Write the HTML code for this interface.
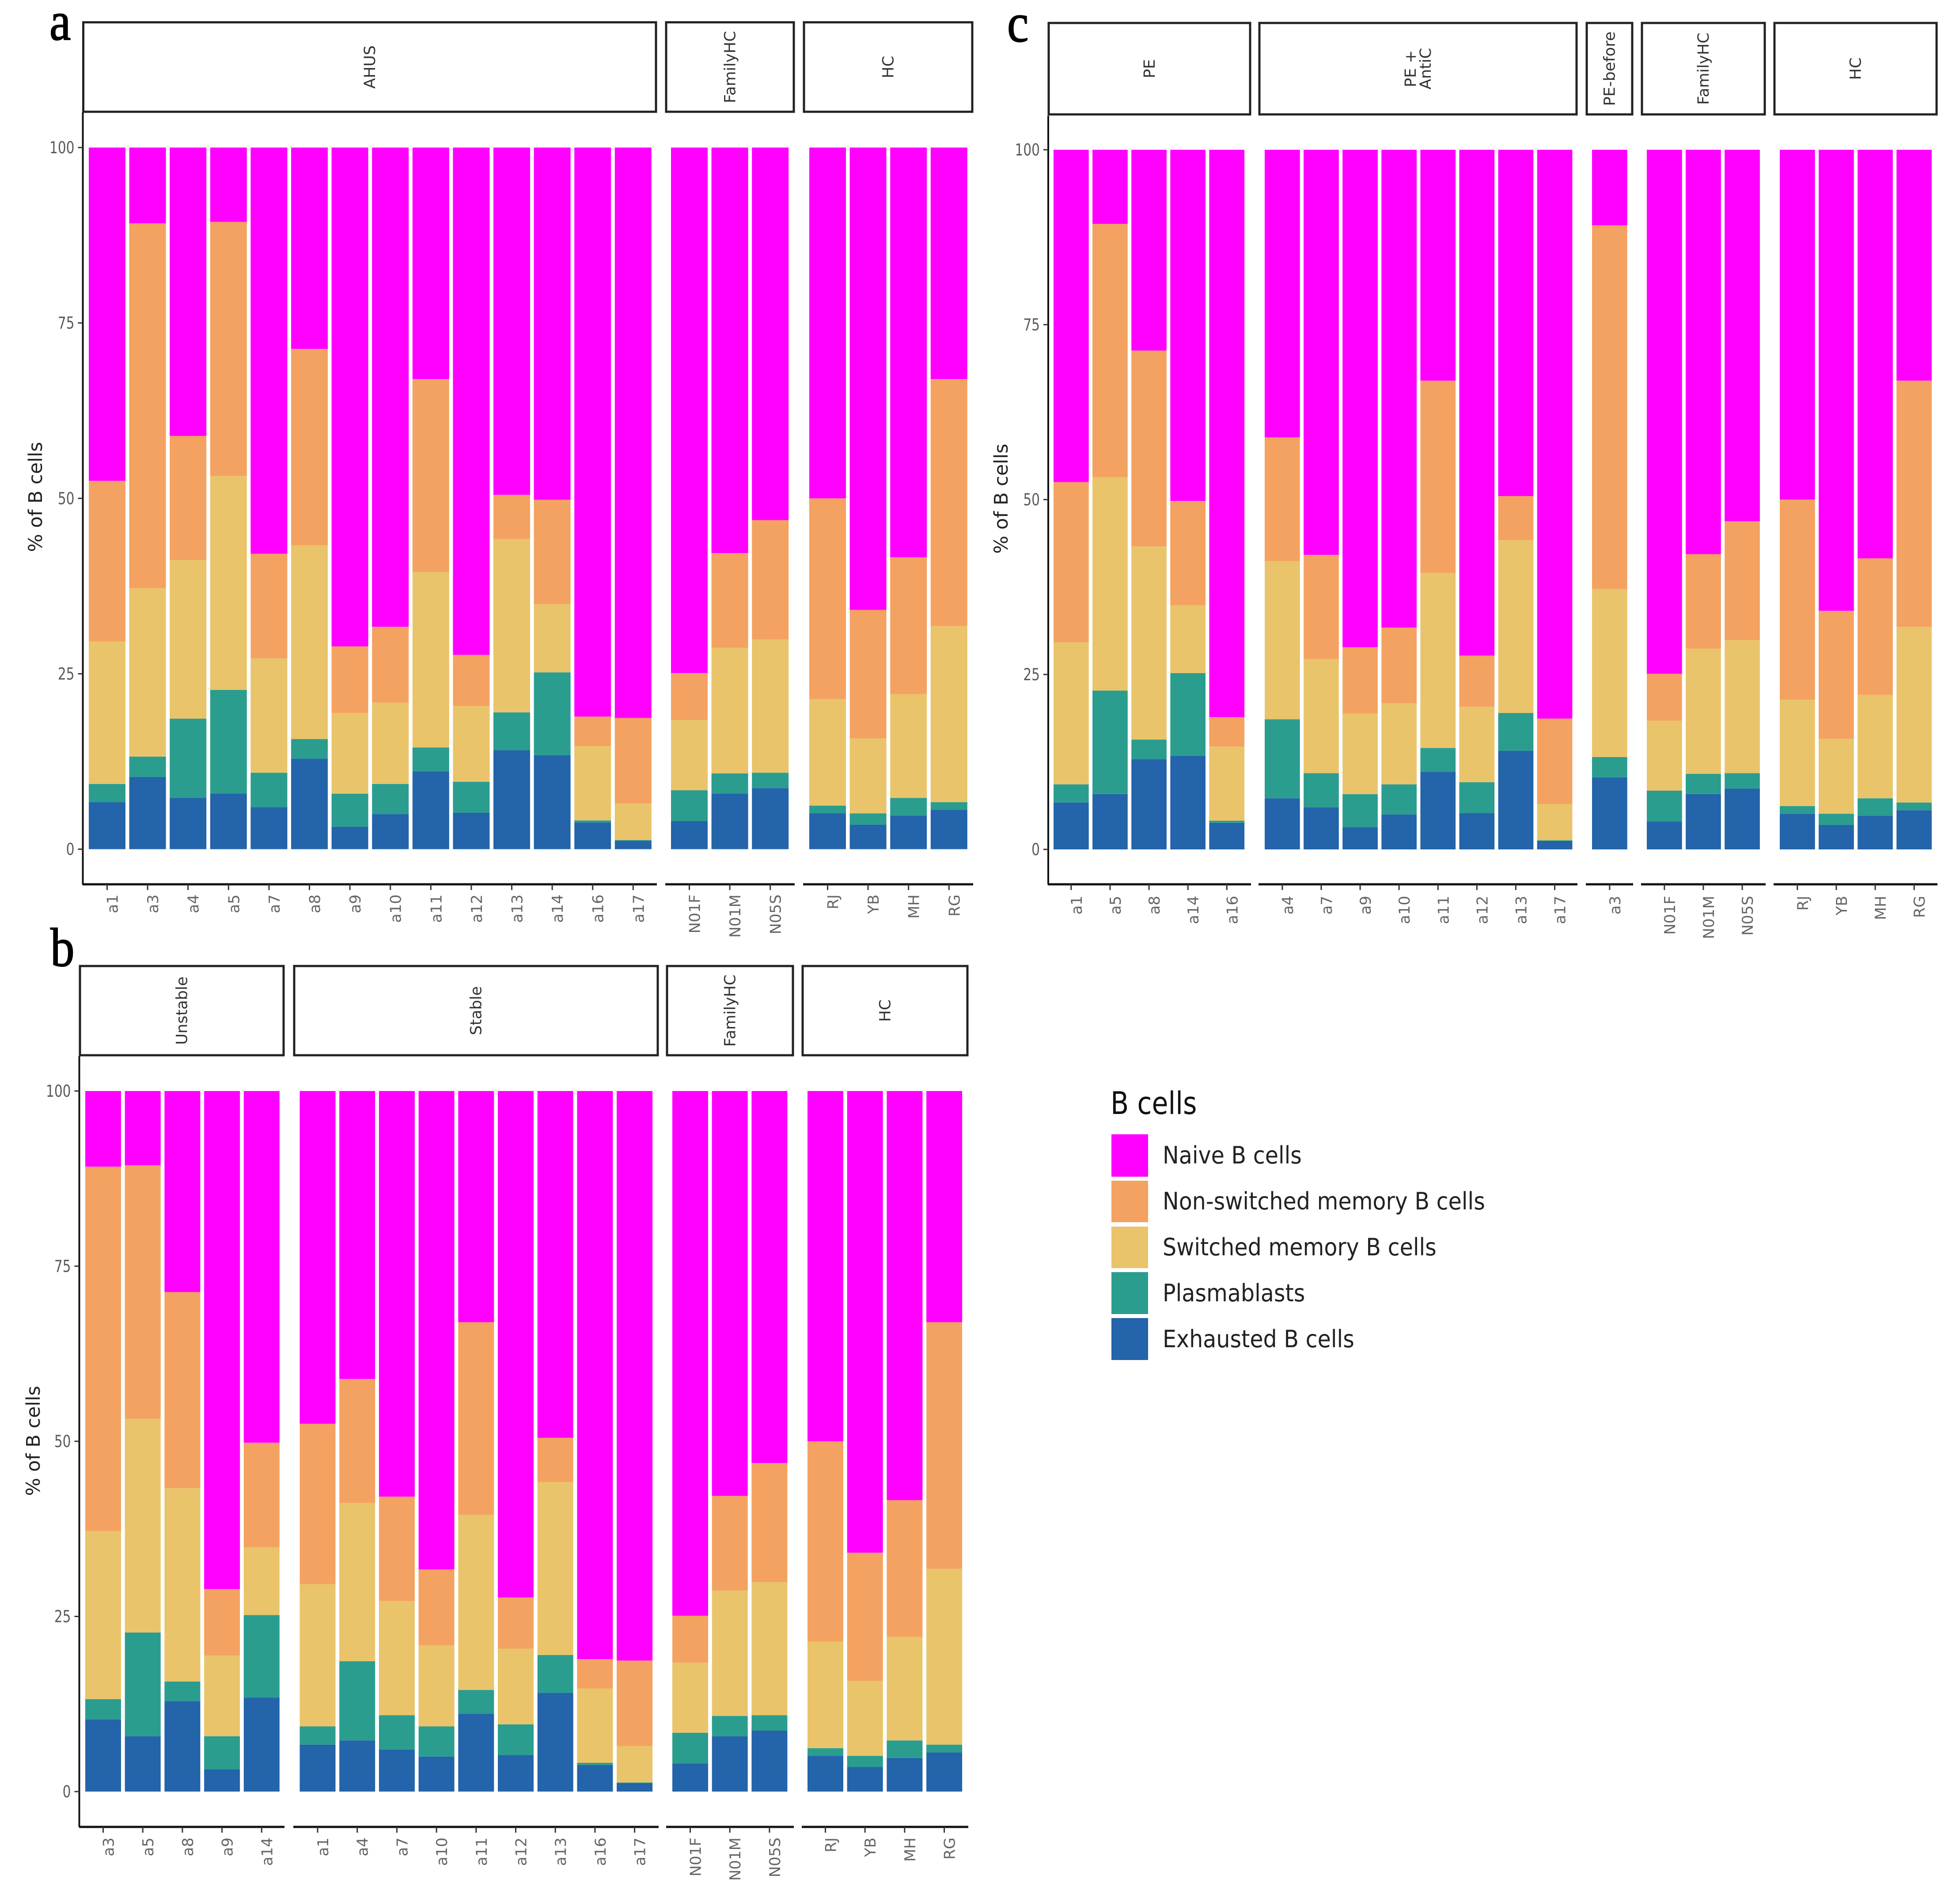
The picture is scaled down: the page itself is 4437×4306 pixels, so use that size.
<!DOCTYPE html>
<html lang="en">
<head>
<meta charset="utf-8">
<title>B cell composition by group</title>
<style>
html,body{margin:0;padding:0;background:#fff;}
svg{display:block;}
text{font-family:"DejaVu Sans","Liberation Sans",sans-serif;}
.panel-letter{font-family:"Liberation Serif",serif;font-weight:normal;fill:#000;stroke:#000;stroke-width:2;}
</style>
</head>
<body>
<svg id="figure" xmlns="http://www.w3.org/2000/svg" width="4437" height="4306" viewBox="0 0 4437 4306">
  <rect x="0" y="0" width="4437" height="4306" fill="#ffffff"/>
  <text class="panel-letter" transform="translate(112,90) scale(0.88,1)" font-size="124">a</text>
  <text class="panel-letter" transform="translate(114,2187) scale(0.88,1)" font-size="124">b</text>
  <text class="panel-letter" transform="translate(2280,94) scale(0.88,1)" font-size="124">c</text>
  <g id="panels"></g>
  <g>
    <text transform="translate(2514,2522) scale(0.86,1)" font-size="70" fill="#111">B cells</text>
    <rect x="2516" y="2568" width="83" height="96" fill="#FF00FF"/>
    <rect x="2516" y="2673" width="83" height="94" fill="#F4A261"/>
    <rect x="2516" y="2777" width="83" height="94" fill="#E9C46A"/>
    <rect x="2516" y="2880" width="83" height="95" fill="#2A9D8F"/>
    <rect x="2516" y="2984" width="83" height="95" fill="#2364AA"/>
    <text transform="translate(2632,2634) scale(0.91,1)" font-size="54" fill="#222">Naive B cells</text>
    <text transform="translate(2632,2738) scale(0.91,1)" font-size="54" fill="#222">Non-switched memory B cells</text>
    <text transform="translate(2632,2842) scale(0.91,1)" font-size="54" fill="#222">Switched memory B cells</text>
    <text transform="translate(2632,2946) scale(0.91,1)" font-size="54" fill="#222">Plasmablasts</text>
    <text transform="translate(2632,3050) scale(0.91,1)" font-size="54" fill="#222">Exhausted B cells</text>
  </g>
</svg>
<script>
// ---- data ----
const samples = ["a1","a3","a4","a5","a7","a8","a9","a10","a11","a12","a13","a14","a16","a17","N01F","N01M","N05S","RJ","YB","MH","RG"];
const exhausted =    [6.7,10.3,7.3,7.9,6.0,12.9,3.2,5.0,11.1,5.2,14.1,13.4,3.8,1.2,4.0,7.9,8.7,5.1,3.5,4.8,5.6];
const plasmablasts = [2.6,2.9,11.3,14.8,4.9,2.8,4.7,4.3,3.4,4.4,5.4,11.8,0.3,0.1,4.4,2.9,2.2,1.1,1.6,2.5,1.1];
const switchedMem =  [20.3,24.0,22.6,30.5,16.3,27.6,11.5,11.6,25.0,10.8,24.7,9.7,10.6,5.2,10.0,17.9,19.0,15.2,10.7,14.8,25.1];
const nonSwitched =  [22.9,52.0,17.7,36.2,14.9,28.0,9.5,10.8,27.5,7.3,6.3,14.9,4.2,12.2,6.7,13.5,17.0,28.6,18.3,19.5,35.2];
const naive =        [47.5,10.8,41.1,10.6,57.9,28.7,71.1,68.3,33.0,72.3,49.5,50.2,81.1,81.3,74.9,57.8,53.1,50.0,65.9,58.4,33.0];
const yTicks = [0,25,50,75,100];
const familyHC = ["N01F","N01M","N05S"];
const healthy = ["RJ","YB","MH","RG"];
const ahus = ["a1","a3","a4","a5","a7","a8","a9","a10","a11","a12","a13","a14","a16","a17"];
const unstable = ["a3","a5","a8","a9","a14"];
const stable = ["a1","a4","a7","a10","a11","a12","a13","a16","a17"];
const pe = ["a1","a5","a8","a14","a16"];
const peAntiC = ["a4","a7","a9","a10","a11","a12","a13","a17"];
const peBefore = ["a3"];

// ---- layout ----
const seriesOrder = [
  {key:"exhausted", values:exhausted, color:"#2364AA"},
  {key:"plasmablasts", values:plasmablasts, color:"#2A9D8F"},
  {key:"switched", values:switchedMem, color:"#E9C46A"},
  {key:"non-switched", values:nonSwitched, color:"#F4A261"},
  {key:"naive", values:naive, color:"#FF00FF"}
];
const panels = [
  {id:"a", band:91.6, barW:83, y0:1922.5, y100:334, stripTop:50.5, stripBottom:253, axisTop:254, axisBottom:2002,
   axisX:187.5, titleX:95, titleY:1125, labelTop:2025,
   facets:[
    {labels:["AHUS"], samples:ahus, first:201, l:188.5, r:1485},
    {labels:["FamilyHC"], samples:familyHC, first:1519, l:1508, r:1797},
    {labels:["HC"], samples:healthy, first:1832, l:1820, r:2201}
   ]},
  {id:"b", band:89.7, barW:81, y0:4056, y100:2470, stripTop:2187, stripBottom:2389, axisTop:2391, axisBottom:4136,
   axisX:179.5, titleX:90, titleY:3262, labelTop:4160,
   facets:[
    {labels:["Unstable"], samples:unstable, first:193, l:181, r:642},
    {labels:["Stable"], samples:stable, first:678.5, l:666, r:1489},
    {labels:["FamilyHC"], samples:familyHC, first:1522, l:1510, r:1795},
    {labels:["HC"], samples:healthy, first:1828, l:1817, r:2190}
   ]},
  {id:"c", band:88.1, barW:79.7, y0:1923, y100:339, stripTop:52, stripBottom:259, axisTop:262, axisBottom:2002,
   axisX:2373, titleX:2281, titleY:1129, labelTop:2028,
   facets:[
    {labels:["PE"], samples:pe, first:2385, l:2374, r:2830},
    {labels:["PE +","AntiC"], samples:peAntiC, first:2863, l:2851, r:3569},
    {labels:["PE-before"], samples:peBefore, first:3604, l:3592, r:3695},
    {labels:["FamilyHC"], samples:familyHC, first:3728, l:3717, r:3995},
    {labels:["HC"], samples:healthy, first:4029, l:4017, r:4384}
   ]}
];

const NS = "http://www.w3.org/2000/svg";
const root = document.getElementById("panels");
function make(tag, parent, attrs, content){
  const el = document.createElementNS(NS, tag);
  for (const k in attrs) el.setAttribute(k, attrs[k]);
  if (content !== undefined) el.textContent = content;
  parent.appendChild(el);
  return el;
}
function yScale(p, v){ return p.y0 - (v / 100) * (p.y0 - p.y100); }
function xLeft(p, f, i){ return f.first + i * p.band; }
function xCenter(p, f, i){ return xLeft(p, f, i) + p.barW / 2; }

panels.forEach(function(p){
  const g = make("g", root, {});
  
  

  const yLine = make("line", g, {x1:p.axisX, x2:p.axisX, y1:p.axisTop, y2:p.axisBottom, stroke:"#111", "stroke-width":4});
  
  

  const title = make("text", g, {transform:"translate(" + p.titleX + "," + p.titleY + ") rotate(-90)", "text-anchor":"middle", "font-size":43, fill:"#222"}, "% of B cells");
  
  

  yTicks.forEach(function(t){
    const y = yScale(p, t);
    const mark = make("line", g, {x1:p.axisX - 11, x2:p.axisX, y1:y, y2:y, stroke:"#333", "stroke-width":3});
    
    
    const lab = make("text", g, {transform:"translate(" + (p.axisX - 19) + "," + (y + 13) + ") scale(0.8,1)", "text-anchor":"end", "font-size":37, fill:"#5a5a5a"}, String(t));
    
    
  });

  p.facets.forEach(function(f, fi){
    const strip = make("rect", g, {x:f.l, y:p.stripTop, width:f.r - f.l, height:p.stripBottom - p.stripTop, fill:"#fff", stroke:"#222", "stroke-width":5});
    
    
    const cx = (f.l + f.r) / 2, cy = (p.stripTop + p.stripBottom) / 2;
    f.labels.forEach(function(txt, li){
      const offset = 12 + (li - (f.labels.length - 1) / 2) * 34;
      const st = make("text", g, {transform:"translate(" + (cx + offset) + "," + cy + ") rotate(-90)", "text-anchor":"middle", "font-size":35, fill:"#333"}, txt);
      
      
    });

    const xLine = make("line", g, {x1:f.l - 2, x2:f.r + 2, y1:p.axisBottom, y2:p.axisBottom, stroke:"#111", "stroke-width":5});
    
    

    f.samples.forEach(function(name, i){
      const idx = samples.indexOf(name);
      const bx = xLeft(p, f, i), c = xCenter(p, f, i);
      let base = 0;
      seriesOrder.forEach(function(s){
        const top = base + s.values[idx];
        const r = make("rect", g, {x:bx, y:yScale(p, top), width:p.barW, height:yScale(p, base) - yScale(p, top), fill:s.color});
        
        
        base = top;
      });
      const tick = make("line", g, {x1:c, x2:c, y1:p.axisBottom, y2:p.axisBottom + 13, stroke:"#333", "stroke-width":3});
      
      
      const lab = make("text", g, {transform:"translate(" + (c + 24) + "," + p.labelTop + ") rotate(-90)", "text-anchor":"end", "font-size":34, fill:"#666"}, name);
      
      
    });
  });
});
</script>
</body>
</html>
